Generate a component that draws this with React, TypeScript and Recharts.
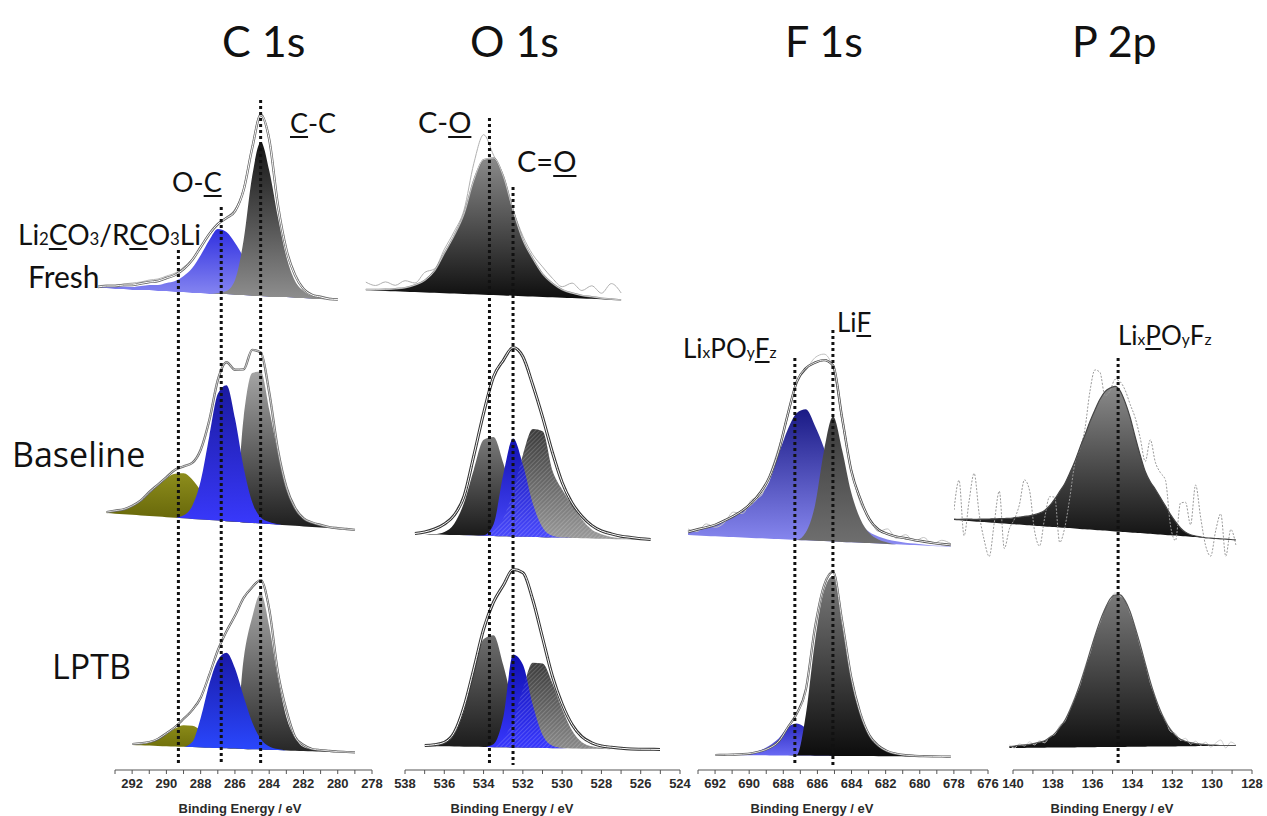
import React from 'react';
import { ComposedChart, Area, Line, XAxis, YAxis } from 'recharts';

const N = null;

// ---------- energies (binding energy, eV) ----------
const C_E = [294, 293.5, 293, 292.5, 292, 291.5, 291, 290.5, 290, 289.5, 289, 288.5, 288, 287.5, 287, 286.5, 286, 285.5, 285, 284.5, 284, 283.5, 283, 282.5, 282, 281.5, 281, 280.5, 280, 279.5, 279, 278.5];
const O_E = [540.5, 540, 539.5, 539, 538.5, 538, 537.5, 537, 536.5, 536, 535.5, 535, 534.5, 534, 533.5, 533, 532.5, 532, 531.5, 531, 530.5, 530, 529.5, 529, 528.5, 528, 527.5, 527, 526.5, 526, 525.5, 525];
const F_E = [694, 693.5, 693, 692.5, 692, 691.5, 691, 690.5, 690, 689.5, 689, 688.5, 688, 687.5, 687, 686.5, 686, 685.5, 685, 684.5, 684, 683.5, 683, 682.5, 682, 681.5, 681, 680.5, 680, 679.5, 679, 678.5];
const P_E = [142.75, 142.5, 142.25, 142, 141.75, 141.5, 141.25, 141, 140.75, 140.5, 140.25, 140, 139.75, 139.5, 139.25, 139, 138.75, 138.5, 138.25, 138, 137.75, 137.5, 137.25, 137, 136.75, 136.5, 136.25, 136, 135.75, 135.5, 135.25, 135, 134.75, 134.5, 134.25, 134, 133.75, 133.5, 133.25, 133, 132.75, 132.5, 132.25, 132, 131.75, 131.5, 131.25, 131, 130.75, 130.5, 130.25, 130, 129.75, 129.5, 129.25, 129, 128.75, 128.5];

// ---------- axis ticks ----------
const C_TICKS = [278, 279, 280, 281, 282, 283, 284, 285, 286, 287, 288, 289, 290, 291, 292, 293];
const O_TICKS = [524, 525, 526, 527, 528, 529, 530, 531, 532, 533, 534, 535, 536, 537, 538];
const F_TICKS = [676, 677, 678, 679, 680, 681, 682, 683, 684, 685, 686, 687, 688, 689, 690, 691, 692, 693];
const P_TICKS = [128, 129, 130, 131, 132, 133, 134, 135, 136, 137, 138, 139, 140];

// ---------- C 1s ----------
const cFreshBg = [17, 17, 16, 16, 15, 15, 15, 14, 14, 13, 13, 12, 12, 11, 11, 11, 10, 10, 9, 9, 8, 8, 8, 7, 7, 6, 6, 5, 5, N, N, N];
const cFreshCC = [0, 0, 0, 0, 0, 0, 0, 0, 0, 0, 0, 0, 0, 0, 1, 3, 15, 55, 120, 154, 126, 80, 40, 17, 7, 3, 1, 0, 0, N, N, N];
const cFreshOC = [1, 1.5, 2, 2.5, 3, 4, 5, 6, 8, 11, 16, 25, 38, 54, 65, 62, 52, 38, 26, 17, 11, 7, 4, 2, 1, 0.5, 0, 0, 0, N, N, N];
const cFreshEnv = [1, 2, 3, 4, 5, 6.5, 8, 10, 13, 17, 23, 33, 46, 60, 70, 76, 84, 105, 148, 181, 157, 92, 47, 23, 9, 4, 2, 1, 0.5, N, N, N];
const cFreshRaw = [2, 3, 4, 5, 7, 8, 10, 12, 15, 19, 25, 34, 47, 61, 71, 77, 86, 107, 150, 183, 155, 90, 46, 22, 10, 5, 3, 2, 1, N, N, N];

const cBaseBg = [N, 21.9, 21.3, 20.7, 20.2, 19.6, 19.0, 18.4, 17.8, 17.3, 16.7, 16.1, 15.5, 15.0, 14.4, 13.8, 13.2, 12.6, 12.1, 11.5, 10.9, 10.3, 9.7, 9.2, 8.6, 8.0, 7.4, 6.9, 6.3, 5.7, 5.1, N];
const cBaseLi = [N, 1.5, 3, 5, 9, 15, 23, 31, 39, 44, 45, 39.5, 29, 18, 9, 4, 1.4, 0.5, 0, 0, 0, 0, 0, 0, 0, 0, 0, 0, 0, 0, 0, N];
const cBaseOC = [N, 0, 0, 0, 0, 0, 0, 0, 0, 0, 3, 13, 39, 84, 127, 136, 103, 55, 21, 6, 2, 0.5, 0, 0, 0, 0, 0, 0, 0, 0, 0, N];
const cBaseCC = [N, 0, 0, 0, 0, 0, 0, 0, 0, 0, 0, 0, 0, 0, 0, 1, 10, 105, 150, 152, 114, 72, 38, 17, 8, 4, 2, 1, 0.5, 0, 0, N];
const cBaseEnv = [N, 1, 3, 5, 9, 15, 24, 32, 40, 48, 52, 56, 70, 100, 141, 159, 152, 153, 173, 171, 131, 75, 38, 18, 8, 4.5, 2.6, 1, 0.5, 0.3, 0, N];

const cLptbBg = [N, N, N, N, 15.0, 14.7, 14.4, 14.1, 13.8, 13.5, 13.2, 12.9, 12.6, 12.3, 12.0, 11.7, 11.4, 11.1, 10.8, 10.5, 10.2, 9.9, 9.6, 9.3, 9.0, 8.7, 8.4, 8.1, 7.8, 7.5, 7.2, N];
const cLptbLi = [N, N, N, N, 0.3, 1, 2.8, 6.4, 12, 18, 21.6, 21.3, 17.3, 11.6, 6.5, 3, 1.2, 0.4, 0, 0, 0, 0, 0, 0, 0, 0, 0, 0, 0, 0, 0, N];
const cLptbOC = [N, N, N, N, 0, 0, 0, 0, 0, 0, 0, 5, 30, 64, 88, 95.5, 80, 52.5, 27, 10.6, 3.3, 1, 0, 0, 0, 0, 0, 0, 0, 0, 0, N];
const cLptbCC = [N, N, N, N, 0, 0, 0, 0, 0, 0, 0, 0, 0, 0, 0, 0, 3, 90, 132, 156, 123, 72, 33, 13, 4, 2, 1, 0.5, 0, 0, 0, N];
const cLptbEnv = [N, N, N, N, 1, 2, 3.6, 7, 13, 19.5, 28, 37, 50, 73, 98, 117, 133, 151, 162, 169.5, 140, 78, 40, 14, 6, 2.3, 1.5, 1, 0.5, 0.5, 0.5, N];

// ---------- O 1s ----------
const oFreshBg = [N, 14.9, 14.5, 14.1, 13.7, 13.3, 13.0, 12.6, 12.2, 11.8, 11.5, 11.1, 10.7, 10.3, 9.9, 9.6, 9.2, 8.8, 8.4, 8.1, 7.7, 7.3, 6.9, 6.5, 6.2, 5.8, 5.4, 5.0, N, N, N, N];
const oFreshCO = [N, 0.5, 1, 1.5, 2.5, 4, 7, 12, 22, 40, 58, 80, 114, 135, 137, 119, 85, 56, 38, 23, 14, 8, 5, 3, 2, 1, 0.5, 0, N, N, N, N];
const oFreshRaw = [N, 8, 5, 9, 6, 11, 9, 20, 24, 44, 62, 84, 131, 160, 140, 120, 86, 60, 42, 30, 19, 11, 15, 8, 13, 6, 16, 7, N, N, N, N];

const oBaseBg = [N, N, N, N, N, N, 10.9, 10.7, 10.4, 10.2, 9.9, 9.7, 9.5, 9.2, 9.0, 8.7, 8.5, 8.2, 8.0, 7.8, 7.5, 7.3, 7.0, 6.8, 6.6, 6.3, 6.1, 5.8, 5.6, 5.3, 5.1, N];
const oBaseCO = [N, N, N, N, N, N, 0, 0.1, 0.5, 2.8, 11.4, 32.5, 66, 96, 99, 73, 38.5, 14.5, 3.8, 0.7, 0.1, 0, 0, 0, 0, 0, 0, 0, 0, 0, 0, N];
const oBaseCdO = [N, N, N, N, N, N, 0, 0, 0, 0, 0, 0, 0, 0.6, 11.5, 62, 98, 72, 33.5, 9.7, 1.8, 0.2, 0, 0, 0, 0, 0, 0, 0, 0, 0, N];
const oBaseX = [N, N, N, N, N, N, 0, 0, 0, 0, 0, 0, 0, 0, 5, 18, 45.6, 82, 108, 106, 67, 48, 33, 19, 9, 4.5, 2, 1, 0.3, 0, 0, N];
const oBaseEnv = [N, N, N, N, N, N, 0.6, 2.3, 5.6, 10.8, 20, 39, 80, 123, 159, 176, 189, 180, 152, 120, 85, 55, 35, 22, 13, 7.7, 5, 3, 2, 1, 0.5, N];

const oLptbBg = [N, N, N, N, N, N, N, 14, 13.8, 13.7, 13.5, 13.3, 13.2, 13.0, 12.8, 12.7, 12.5, 12.3, 12.2, 12.0, 11.8, 11.7, 11.5, 11.3, 11.2, 11.0, 10.8, 10.7, 10.5, 10.3, 10.2, 10.0];
const oLptbCO = [N, N, N, N, N, N, N, 0, 0.5, 3, 12, 36, 74, 108, 112, 82, 43, 15.5, 4, 0.8, 0, 0, 0, 0, 0, 0, 0, 0, 0, 0, 0, 0];
const oLptbCdO = [N, N, N, N, N, N, N, 0, 0, 0, 0, 0, 0, 0, 3, 30, 93, 83, 43, 13, 2.5, 0.3, 0, 0, 0, 0, 0, 0, 0, 0, 0, 0];
const oLptbX = [N, N, N, N, N, N, N, 0, 0, 0, 0, 0, 0, 0, 0, 9, 27.5, 59, 85, 84.5, 65, 39, 18, 6.5, 2.5, 1, 0, 0, 0, 0, 0, 0];
const oLptbEnv = [N, N, N, N, N, N, N, 0.5, 1.5, 4, 14, 40, 78, 118, 145, 162, 178, 175, 148, 110, 72, 44, 24, 12, 6, 3, 2, 1, 0.5, 0.5, 0.5, 0.5];

// ---------- F 1s ----------
const fBaseBg = [N, 20.0, 19.5, 19.1, 18.7, 18.3, 17.9, 17.5, 17.1, 16.7, 16.3, 15.9, 15.5, 15.1, 14.7, 14.3, 13.9, 13.5, 13.1, 12.7, 12.3, 11.9, 11.5, 11.1, 10.7, 10.3, 9.9, 9.5, 9.1, 8.7, 8.3, N];
const fBaseLPF = [N, 3, 6, 8, 11, 15, 20, 26, 33, 43, 58, 85, 110, 127, 131, 115, 93, 63, 43, 28, 19, 11, 7, 4.5, 3, 2, 1.5, 1, 0.5, 0.5, 0.5, N];
const fBaseLiF = [N, 0, 0, 0, 0, 0, 0, 0, 0, 0, 0, 0, 0, 0, 8, 35, 90, 125, 92, 50, 24, 10, 4, 1.5, 0, 0, 0, 0, 0, 0, 0, N];
const fBaseEnv = [N, 3, 6, 8.5, 11.5, 16, 21, 27, 35, 46, 62, 88, 125, 158, 172, 178, 181, 176, 124, 72, 44, 24, 14, 10, 7.6, 6.5, 5, 4, 3, 2.3, 1.7, N];
const fBaseRaw = [N, 6, 4, 12, 9, 14, 25, 24, 38, 42, 64, 92, 122, 160, 170, 183, 187, 173, 120, 74, 40, 26, 12, 15, 6, 10, 4, 8, 2, 6, 3, N];

const fLptbBg = [N, N, N, N, 10, 9.9, 9.9, 9.8, 9.7, 9.7, 9.6, 9.5, 9.5, 9.4, 9.4, 9.3, 9.2, 9.1, 9.1, 9.0, 9.0, 8.9, 8.8, 8.8, 8.7, 8.6, 8.6, 8.5, 8.4, 8.4, 8.3, N];
const fLptbLPF = [N, N, N, N, 0, 0, 0.5, 1, 2.5, 5, 10, 17, 28, 32, 27, 16, 8, 3.5, 1.5, 0.5, 0, 0, 0, 0, 0, 0, 0, 0, 0, 0, 0, N];
const fLptbLiF = [N, N, N, N, 0, 0, 0, 0, 0, 0, 0, 0, 0, 0.5, 41, 114, 165, 180, 130, 77, 42, 20, 10, 5, 2.5, 1.2, 0.6, 0.3, 0, 0, 0, N];
const fLptbEnv = [N, N, N, N, 0, 0.3, 0.5, 1, 2, 4, 7.5, 14, 28, 42, 66, 128, 170, 184, 135, 79, 43, 21, 10.5, 5, 2.5, 1.2, 0.6, 0.3, 0.2, 0.1, 0.1, N];

// ---------- P 2p ----------
const pBaseBg = [60, 59.7, 59.3, 59.0, 58.6, 58.3, 57.9, 57.5, 57.2, 56.8, 56.5, 56.1, 55.8, 55.4, 55.1, 54.7, 54.3, 54.0, 53.6, 53.3, 52.9, 52.6, 52.2, 51.9, 51.5, 51.1, 50.8, 50.4, 50.1, 49.7, 49.4, 49.0, 48.6, 48.3, 47.9, 47.6, 47.2, 46.9, 46.5, 46.2, 45.8, 45.4, 45.1, 44.7, 44.4, 44.0, 43.7, 43.3, 43.0, 42.6, 42.2, 41.9, 41.5, 41.2, 40.8, 40.5, 40.1, N];
const pBaseComp = [1, 1, 1.5, 2, 2, 2.5, 3, 3.5, 4, 4.5, 5, 5.5, 6.5, 7.5, 8.5, 9.5, 11, 13, 16, 21, 28, 36, 44, 55, 67, 81, 94, 108, 120, 131, 139, 143, 145, 141, 130, 115, 96, 78, 62, 52, 45, 37, 29, 21, 14, 8, 4, 2, 1, 0.5, 0, 0, 0, 0, 0, 0, 0, N];
const pBaseRaw = [10, 40, -15, 20, 48, 8, -18, -34, 0, 32, -25, -5, 5, 20, 45, 35, -5, -20, 8, 30, 30, -15, 0, 30, 65, 80, 100, 138, 160, 158, 135, 140, 152, 150, 142, 128, 115, 95, 72, 94, 72, 62, 55, 10, -5, 33, 34, 12, 52, 20, -8, -18, 8, 25, -17, 10, -5, N];

const pLptbBg = [N, N, N, N, N, N, N, N, N, N, N, 12.0, 12.0, 12.1, 12.1, 12.2, 12.2, 12.3, 12.3, 12.4, 12.4, 12.5, 12.5, 12.6, 12.6, 12.7, 12.7, 12.8, 12.8, 12.9, 12.9, 13.0, 13.0, 13.1, 13.1, 13.2, 13.2, 13.3, 13.3, 13.4, 13.4, 13.5, 13.5, 13.6, 13.6, 13.7, 13.7, 13.8, 13.8, 13.9, 13.9, 13.9, 14.0, 14.0, 14.0, 14.0, 14.0, N];
const pLptbComp = [N, N, N, N, N, N, N, N, N, N, N, 1.5, 2, 2.5, 3, 3.5, 4.5, 5.5, 7, 10, 14, 20, 27, 37, 49, 63, 78, 95, 111, 126, 138, 148, 152, 152, 146, 135, 119, 102, 83, 65, 49, 36, 25, 17, 11, 7, 5, 3.5, 2.5, 2, 1.5, 1, 1, 0.5, 0.5, 0.5, 0.5, N];
const pLptbRaw = [N, N, N, N, N, N, N, N, N, N, N, 3, 0, 4, 2, 6, 3, 7, 5, 11, 13, 22, 26, 38, 50, 62, 80, 94, 112, 125, 139, 147, 154, 151, 147, 134, 120, 101, 84, 64, 50, 35, 27, 15, 13, 6, 8, 2, 5, 1, 4, -1, 3, 6, -2, 4, 1, N];

// ---------- peak marker energies ----------
const C_MARKS = [289.3, 286.8, 284.5];
const O_MARKS = [533.7, 532.5];
const F_MARKS = [687.6, 685.5];
const P_MARKS = [134.63];

type Col = { lo: number; hi: number; x0: number; x1: number; ticks: number[] };
// scales of the spectra panels
const COL_C: Col = { lo: 278, hi: 293, x0: 115, x1: 372, ticks: C_TICKS };
const COL_O: Col = { lo: 524, hi: 538, x0: 405, x1: 680, ticks: O_TICKS };
const COL_F: Col = { lo: 676, hi: 693, x0: 696.9, x1: 1005, ticks: F_TICKS };
const COL_P: Col = { lo: 128, hi: 140, x0: 1009.8, x1: 1251.4, ticks: P_TICKS };
// scales of the printed bottom axes (the pasted panels do not line up exactly)
const AX_F: Col = { lo: 676, hi: 693, x0: 698, x1: 988, ticks: F_TICKS };
const AX_P: Col = { lo: 128, hi: 140, x0: 1013, x1: 1252, ticks: P_TICKS };

const ppe = (c: Col) => (c.x1 - c.x0) / (c.hi - c.lo);
const xOf = (c: Col, e: number) => c.x0 + (c.hi - e) * ppe(c);

type Comp = { key: string; values: (number | null)[]; top: string; bottom: string; hatch?: boolean };

type PanelProps = {
  id: string;
  col: Col;
  energies: number[];
  bottom: number;
  height: number;
  bg: (number | null)[];
  comps: Comp[];
  env: (number | null)[];
  raw?: (number | null)[];
  rawColor?: string;
  rawDash?: string;
  envOuter?: string;
  envOuterW?: number;
  envInner?: string | null;
  envInnerW?: number;
};

function Panel(p: PanelProps) {
  const eHi = p.energies[0];
  const eLo = p.energies[p.energies.length - 1];
  const left = xOf(p.col, eHi);
  const width = (eHi - eLo) * ppe(p.col);
  const rows = p.energies.map((e, i) => {
    const b = p.bg[i];
    const r: any = { e };
    p.comps.forEach((c) => {
      const v = c.values[i];
      const val = b == null || v == null ? null : [b, b + v];
      r[c.key] = val;
      r[c.key + '_h'] = val;
    });
    const ev = p.env[i];
    r.env = b == null || ev == null ? null : b + ev;
    r.env2 = r.env;
    if (p.raw) {
      const rv = p.raw[i];
      r.raw = b == null || rv == null ? null : b + rv;
    }
    return r;
  });
  return (
    <div style={{ position: 'absolute', left, top: p.bottom - p.height, width, height: p.height }}>
      <ComposedChart width={width} height={p.height} data={rows} margin={{ top: 0, right: 0, bottom: 0, left: 0 }}>
        <defs>
          {p.comps.map((c) => (
            <linearGradient key={c.key} id={`${p.id}-${c.key}`} x1="0" y1="0" x2="0" y2="1">
              <stop offset="0%" stopColor={c.top} />
              <stop offset="100%" stopColor={c.bottom} />
            </linearGradient>
          ))}
          <pattern id={`${p.id}-hatch`} width="3" height="3" patternUnits="userSpaceOnUse" patternTransform="rotate(45)">
            <line x1="0" y1="0" x2="0" y2="3" stroke="rgba(255,255,255,0.35)" strokeWidth="1" />
          </pattern>
        </defs>
        <XAxis dataKey="e" type="number" domain={[eLo, eHi]} reversed hide allowDataOverflow />
        <YAxis type="number" domain={[0, p.height]} hide allowDataOverflow />
        {p.raw && (
          <Line dataKey="raw" type="monotone" stroke={p.rawColor || '#b8b8b8'} strokeWidth={1} strokeDasharray={p.rawDash} dot={false} activeDot={false} isAnimationActive={false} />
        )}
        {p.comps.map((c) => (
          <Area key={c.key} dataKey={c.key} type="monotone" stroke="none" fill={`url(#${p.id}-${c.key})`} fillOpacity={1} dot={false} activeDot={false} isAnimationActive={false} />
        ))}
        {p.comps.filter((c) => c.hatch).map((c) => (
          <Area key={c.key + '_h'} dataKey={c.key + '_h'} type="monotone" stroke="none" fill={`url(#${p.id}-hatch)`} fillOpacity={1} dot={false} activeDot={false} isAnimationActive={false} />
        ))}
        <Line dataKey="env" type="monotone" stroke={p.envOuter || '#555'} strokeWidth={p.envOuterW || 2.4} dot={false} activeDot={false} isAnimationActive={false} />
        {p.envInner !== null && (
          <Line dataKey="env2" type="monotone" stroke={p.envInner || '#ffffff'} strokeWidth={p.envInnerW || 0.9} dot={false} activeDot={false} isAnimationActive={false} />
        )}
      </ComposedChart>
    </div>
  );
}

const AX_TOP = 90;
const AX_BOTTOM = 770;
const MARK_END = 765;

function AxisOverlay({ col }: { col: Col }) {
  const padL = 30;
  const padR = 30;
  const plotH = AX_BOTTOM - AX_TOP;
  const axisH = 30;
  const width = col.x1 - col.x0 + padL + padR;
  const data = col.ticks.map((t) => ({ e: t }));
  return (
    <div style={{ position: 'absolute', left: col.x0 - padL, top: AX_TOP }}>
      <ComposedChart width={width} height={plotH + axisH} data={data} margin={{ top: 0, right: padR, bottom: 0, left: padL }}>
        <XAxis
          dataKey="e"
          type="number"
          domain={[col.lo, col.hi]}
          reversed
          ticks={col.ticks}
          interval={0}
          height={axisH}
          tickFormatter={(v: number) => (v % 2 === 0 ? String(v) : '')}
          tick={{ fill: '#2a2a2a', fontSize: 13, fontWeight: 700, fontFamily: 'Liberation Sans, Arial, sans-serif' }}
          tickSize={4}
          tickMargin={5}
          stroke="#555"
          axisLine={{ stroke: '#555', strokeWidth: 1 }}
          tickLine={{ stroke: '#555' }}
        />
        <YAxis type="number" domain={[0, plotH]} hide />
      </ComposedChart>
    </div>
  );
}

// dotted vertical peak-position markers, drawn as two-point lines through the column's x scale
function MarkerOverlay({ col, marks, tops }: { col: Col; marks: number[]; tops: number[] }) {
  const plotH = AX_BOTTOM - AX_TOP;
  const width = col.x1 - col.x0;
  const rows: any[] = [];
  marks.forEach((m, i) => {
    rows.push({ e: m, ['m' + i]: AX_BOTTOM - tops[i] });
    rows.push({ e: m, ['m' + i]: AX_BOTTOM - MARK_END });
  });
  return (
    <div style={{ position: 'absolute', left: col.x0, top: AX_TOP }}>
      <ComposedChart width={width} height={plotH} data={rows} margin={{ top: 0, right: 0, bottom: 0, left: 0 }} style={{ overflow: 'visible' }}>
        <XAxis dataKey="e" type="number" domain={[col.lo, col.hi]} reversed hide allowDataOverflow />
        <YAxis type="number" domain={[0, plotH]} hide allowDataOverflow />
        {marks.map((m, i) => (
          <Line
            key={m}
            dataKey={'m' + i}
            stroke="#111"
            strokeWidth={3}
            strokeDasharray="3 3"
            dot={false}
            activeDot={false}
            isAnimationActive={false}
            connectNulls={false}
          />
        ))}
      </ComposedChart>
    </div>
  );
}

function Txt({ x, base, size, font = 'Lato', weight = 400, children }: any) {
  return (
    <div
      style={{
        position: 'absolute',
        left: x,
        top: base - 0.887 * size,
        fontSize: size,
        lineHeight: 1,
        fontFamily: font,
        fontWeight: weight,
        whiteSpace: 'nowrap',
        color: '#111',
      }}
    >
      {children}
    </div>
  );
}
const U = ({ children }: any) => (
  <span style={{ textDecoration: 'underline', textDecorationThickness: '2px', textUnderlineOffset: '3px' }}>{children}</span>
);
const S = ({ children }: any) => <span style={{ fontSize: '0.6em' }}>{children}</span>;

function AxisTitle({ cx }: { cx: number }) {
  return (
    <div
      style={{
        position: 'absolute',
        left: cx - 90,
        width: 180,
        textAlign: 'center',
        top: 802,
        fontSize: 13,
        fontWeight: 700,
        lineHeight: 1,
        fontFamily: 'Liberation Sans, Arial, sans-serif',
        color: '#2a2a2a',
      }}
    >
      Binding Energy / eV
    </div>
  );
}

export default function App() {
  return (
    <div style={{ position: 'absolute', left: 0, top: 0, width: 1267, height: 816, background: '#fff', overflow: 'hidden' }}>
      {/* C 1s */}
      <Panel
        id="cf" col={COL_C} energies={C_E} bottom={305} height={220} bg={cFreshBg}
        comps={[
          { key: 'oc', values: cFreshOC, top: '#2f2fe0', bottom: '#8c8cf2' },
          { key: 'cc', values: cFreshCC, top: '#141414', bottom: '#8f8f8f' },
        ]}
        env={cFreshEnv} raw={cFreshRaw} envOuter="#666" envOuterW={2.4} envInner="#ffffff" envInnerW={1}
      />
      <Panel
        id="cb" col={COL_C} energies={C_E} bottom={535} height={220} bg={cBaseBg}
        comps={[
          { key: 'cc', values: cBaseCC, top: '#a5a5a5', bottom: '#1c1c1c' },
          { key: 'li', values: cBaseLi, top: '#8d8d1c', bottom: '#5f5f06' },
          { key: 'oc', values: cBaseOC, top: '#1a1aa0', bottom: '#3a3aff' },
        ]}
        env={cBaseEnv} envOuter="#6a6a6a" envOuterW={2.4} envInner="#dddddd" envInnerW={0.9}
      />
      <Panel
        id="cl" col={COL_C} energies={C_E} bottom={760} height={200} bg={cLptbBg}
        comps={[
          { key: 'cc', values: cLptbCC, top: '#a8a8a8', bottom: '#262626' },
          { key: 'li', values: cLptbLi, top: '#8a8a18', bottom: '#6a6a08' },
          { key: 'oc', values: cLptbOC, top: '#1a1aa8', bottom: '#2a48ff' },
        ]}
        env={cLptbEnv} envOuter="#5a5a5a" envOuterW={2.2} envInner="#ffffff" envInnerW={0.8}
      />

      {/* O 1s */}
      <Panel
        id="of" col={COL_O} energies={O_E} bottom={305} height={200} bg={oFreshBg}
        comps={[{ key: 'co', values: oFreshCO, top: '#8a8a8a', bottom: '#0d0d0d' }]}
        env={oFreshCO} raw={oFreshRaw} rawColor="#b0b0b0" envOuter="#777" envOuterW={1.6} envInner="#ffffff" envInnerW={0.6}
      />
      <Panel
        id="ob" col={COL_O} energies={O_E} bottom={545} height={220} bg={oBaseBg}
        comps={[
          { key: 'co', values: oBaseCO, top: '#7a7a7a', bottom: '#161616' },
          { key: 'x', values: oBaseX, top: '#3a3a3a', bottom: '#9a9a9a', hatch: true },
          { key: 'cdo', values: oBaseCdO, top: '#1212b0', bottom: '#4a4aff' },
        ]}
        env={oBaseEnv} envOuter="#333" envOuterW={3} envInner="#ffffff" envInnerW={1}
      />
      <Panel
        id="ol" col={COL_O} energies={O_E} bottom={760} height={200} bg={oLptbBg}
        comps={[
          { key: 'co', values: oLptbCO, top: '#6e6e6e', bottom: '#1a1a1a' },
          { key: 'x', values: oLptbX, top: '#3c3c3c', bottom: '#8a8a8a', hatch: true },
          { key: 'cdo', values: oLptbCdO, top: '#1010b0', bottom: '#3838ff' },
        ]}
        env={oLptbEnv} envOuter="#333" envOuterW={3} envInner="#ffffff" envInnerW={1}
      />

      {/* F 1s */}
      <Panel
        id="fb" col={COL_F} energies={F_E} bottom={555} height={220} bg={fBaseBg}
        comps={[
          { key: 'lpf', values: fBaseLPF, top: '#1a1a85', bottom: '#8b8bf3' },
          { key: 'lif', values: fBaseLiF, top: '#3a3a3a', bottom: '#707070' },
        ]}
        env={fBaseEnv} raw={fBaseRaw} rawColor="#c0c0c0" envOuter="#444" envOuterW={2.4} envInner="#ffffff" envInnerW={0.9}
      />
      <Panel
        id="fl" col={COL_F} energies={F_E} bottom={765} height={210} bg={fLptbBg}
        comps={[
          { key: 'lpf', values: fLptbLPF, top: '#2b2bc0', bottom: '#6b6bf5' },
          { key: 'lif', values: fLptbLiF, top: '#7a7a7a', bottom: '#0c0c0c' },
        ]}
        env={fLptbEnv} envOuter="#555" envOuterW={2.2} envInner="#ffffff" envInnerW={0.8}
      />

      {/* P 2p */}
      <Panel
        id="pb" col={COL_P} energies={P_E} bottom={580} height={230} bg={pBaseBg}
        comps={[{ key: 'p', values: pBaseComp, top: '#8a8a8a', bottom: '#111111' }]}
        env={pBaseComp} raw={pBaseRaw} rawColor="#9a9a9a" rawDash="2 1.5" envOuter="#444" envOuterW={1.2} envInner={null}
      />
      <Panel
        id="pl" col={COL_P} energies={P_E} bottom={760} height={200} bg={pLptbBg}
        comps={[{ key: 'p', values: pLptbComp, top: '#7a7a7a', bottom: '#111111' }]}
        env={pLptbComp} raw={pLptbRaw} rawColor="#cfcfcf" envOuter="#555" envOuterW={1.2} envInner={null}
      />

      {/* bottom axes */}
      <AxisOverlay col={COL_C} />
      <AxisOverlay col={COL_O} />
      <AxisOverlay col={AX_F} />
      <AxisOverlay col={AX_P} />

      {/* peak markers */}
      <MarkerOverlay col={COL_C} marks={C_MARKS} tops={[250, 207, 100]} />
      <MarkerOverlay col={COL_O} marks={O_MARKS} tops={[118, 187]} />
      <MarkerOverlay col={COL_F} marks={F_MARKS} tops={[358, 330]} />
      <MarkerOverlay col={COL_P} marks={P_MARKS} tops={[358]} />

      <AxisTitle cx={240} />
      <AxisTitle cx={512} />
      <AxisTitle cx={812} />
      <AxisTitle cx={1112} />

      {/* column titles */}
      <Txt x={222} base={57} size={43}>C 1s</Txt>
      <Txt x={470} base={57} size={43}>O 1s</Txt>
      <Txt x={785} base={57} size={43}>F 1s</Txt>
      <Txt x={1072} base={57} size={43}>P 2p</Txt>

      {/* row labels */}
      <Txt x={28} base={288} size={30}>Fresh</Txt>
      <Txt x={12} base={467} size={34} font="Open Sans">Baseline</Txt>
      <Txt x={52} base={679} size={34} font="Open Sans">LPTB</Txt>

      {/* peak labels */}
      <Txt x={290} base={133} size={27}><U>C</U>-C</Txt>
      <Txt x={172} base={192} size={27}>O-<U>C</U></Txt>
      <Txt x={18} base={245} size={28}>Li<S>2</S><U>C</U>O<S>3</S>/R<U>C</U>O<S>3</S>Li</Txt>
      <Txt x={418} base={133} size={29}>C-<U>O</U></Txt>
      <Txt x={517} base={172} size={29}>C=<U>O</U></Txt>
      <Txt x={683} base={358} size={26}>Li<S>x</S>PO<S>y</S><U>F</U><S>z</S></Txt>
      <Txt x={837} base={332} size={26}>Li<U>F</U></Txt>
      <Txt x={1118} base={345} size={26}>Li<S>x</S><U>P</U>O<S>y</S>F<S>z</S></Txt>
    </div>
  );
}
